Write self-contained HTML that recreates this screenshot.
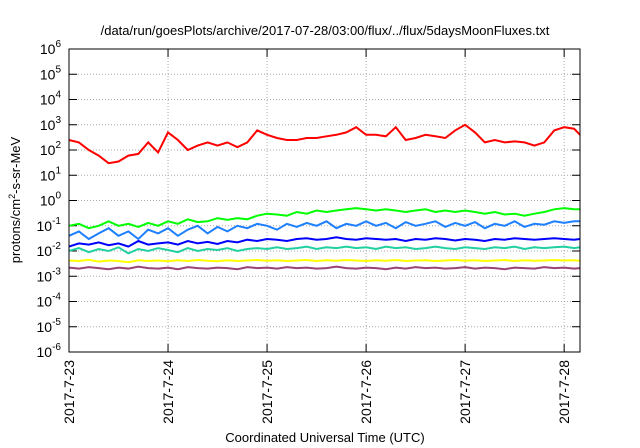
<!DOCTYPE html>
<html><head><meta charset="utf-8"><style>
body{margin:0;background:#fff;}
svg{display:block;font-family:"Liberation Sans",sans-serif;}
</style></head><body>
<svg id="c" width="640" height="448"></svg>
<script>
const dayLabels=["2017-7-23","2017-7-24","2017-7-25","2017-7-26","2017-7-27","2017-7-28"];
const decades=[-6,-5,-4,-3,-2,-1,0,1,2,3,4,5,6];
const redFlux=[250,200,100,60,30,35,60,70,200,80,500,250,100,150,200,150,200,130,200,600,400,300,250,250,300,300,350,400,500,800,400,400,350,800,250,300,400,350,300,600,1000,500,200,250,200,220,200,150,200,600,800,700,400];
const greenFlux=[0.1,0.12,0.08,0.1,0.15,0.1,0.12,0.09,0.13,0.1,0.15,0.12,0.18,0.14,0.15,0.2,0.17,0.2,0.18,0.25,0.3,0.28,0.25,0.35,0.3,0.4,0.35,0.4,0.45,0.5,0.45,0.4,0.45,0.4,0.35,0.4,0.45,0.35,0.4,0.35,0.4,0.35,0.3,0.35,0.28,0.3,0.25,0.3,0.35,0.45,0.5,0.45,0.45];
const lightBlueFlux=[0.04,0.06,0.03,0.05,0.08,0.04,0.06,0.03,0.07,0.05,0.08,0.04,0.07,0.1,0.05,0.09,0.06,0.1,0.08,0.12,0.1,0.07,0.12,0.09,0.13,0.1,0.15,0.08,0.12,0.1,0.15,0.1,0.13,0.08,0.14,0.1,0.12,0.15,0.09,0.13,0.1,0.14,0.08,0.12,0.1,0.15,0.09,0.12,0.11,0.15,0.13,0.15,0.15];
const blueFlux=[0.015,0.02,0.018,0.022,0.017,0.02,0.015,0.025,0.018,0.02,0.022,0.018,0.025,0.02,0.023,0.019,0.025,0.022,0.028,0.025,0.03,0.028,0.025,0.03,0.032,0.028,0.03,0.035,0.03,0.028,0.032,0.03,0.028,0.03,0.025,0.03,0.028,0.032,0.03,0.026,0.03,0.028,0.025,0.03,0.028,0.032,0.03,0.028,0.03,0.032,0.03,0.028,0.03];
const tealFlux=[0.01,0.013,0.009,0.012,0.01,0.014,0.008,0.012,0.01,0.013,0.011,0.009,0.013,0.01,0.012,0.011,0.013,0.01,0.012,0.013,0.012,0.014,0.012,0.013,0.015,0.012,0.014,0.013,0.015,0.013,0.014,0.012,0.015,0.013,0.014,0.012,0.013,0.015,0.013,0.012,0.014,0.013,0.012,0.014,0.013,0.015,0.012,0.014,0.013,0.014,0.015,0.013,0.014];
const yellowFlux=[0.0042,0.004,0.0045,0.0038,0.0042,0.004,0.0036,0.0043,0.004,0.0042,0.0039,0.0043,0.004,0.0044,0.0041,0.0039,0.0043,0.004,0.0042,0.0044,0.0041,0.0043,0.004,0.0042,0.0044,0.004,0.0043,0.0041,0.0044,0.0042,0.004,0.0043,0.0041,0.0044,0.004,0.0042,0.0043,0.004,0.0042,0.0044,0.0041,0.0043,0.004,0.0042,0.0044,0.004,0.0043,0.0041,0.0042,0.0044,0.0042,0.0043,0.0041];
const purpleFlux=[0.0022,0.002,0.0023,0.0021,0.0019,0.0022,0.002,0.0024,0.0021,0.002,0.0022,0.0019,0.0023,0.0021,0.002,0.0022,0.0021,0.0019,0.0023,0.0021,0.0022,0.002,0.0023,0.0021,0.0022,0.002,0.0021,0.0024,0.0021,0.002,0.0022,0.0021,0.0019,0.0022,0.002,0.0023,0.0021,0.0022,0.002,0.0021,0.0023,0.002,0.0022,0.0021,0.0019,0.0022,0.0021,0.002,0.0023,0.0021,0.0022,0.002,0.0021];
const L=69,R=580,T=49,B=352,DAYS=5.16;
const NS='http://www.w3.org/2000/svg';
const svg=document.getElementById('c');
function xs(d){return L+d/DAYS*(R-L);}
function ys(v){return B-(Math.log10(v)+6)/12*(B-T);}
function mk(tag,attrs,parent){const e=document.createElementNS(NS,tag);for(const k in attrs)e.setAttribute(k,attrs[k]);(parent||svg).appendChild(e);return e;}
// grid
decades.forEach(p=>{const y=B-(p+6)/12*(B-T);
 if(p>-6&&p<6){const g=mk('line',{x1:L,x2:R,y1:y,y2:y,stroke:'#aaa','stroke-dasharray':'1,2'});
 
 }
 mk('line',{x1:L,x2:L+8,y1:y,y2:y,stroke:'#000'});mk('line',{x1:R,x2:R-8,y1:y,y2:y,stroke:'#000'});
 const t=mk('text',{x:L-8,y:y+5,'text-anchor':'end','font-size':'14'});
 
 
 t.innerHTML='10<tspan dy="-7" font-size="10">'+p+'</tspan>';
});
dayLabels.forEach((lab,i)=>{const x=xs(i);
 if(i>0){const g=mk('line',{x1:x,x2:x,y1:T,y2:B,stroke:'#aaa','stroke-dasharray':'1,2'});
 
 }
 mk('line',{x1:x,x2:x,y1:B,y2:B-8,stroke:'#000'});mk('line',{x1:x,x2:x,y1:T,y2:T+8,stroke:'#000'});
 const t=mk('text',{x:0,y:0,'text-anchor':'end','font-size':'14',transform:'translate('+(x+5)+','+(B+8)+') rotate(-90)'});
 
 
 t.textContent=lab;
});
const series=[[purpleFlux,'#994477','purple-series'],[yellowFlux,'#ffff00','yellow-series'],[tealFlux,'#20d0a0','teal-series'],[greenFlux,'#00ff00','green-series'],[lightBlueFlux,'#1e80ff','lightblue-series'],[blueFlux,'#0000ff','blue-series'],[redFlux,'#ff0000','red-series']];
series.forEach(([vals,col,name])=>{
 const pts=vals.map((v,i)=>{const d=i<vals.length-1?i*0.1:DAYS;return xs(d).toFixed(1)+','+ys(v).toFixed(1);}).join(' ');
 const p=mk('polyline',{points:pts,fill:'none',stroke:col,'stroke-width':'2'});
 
 
});
const fr=mk('rect',{x:L,y:T,width:R-L,height:B-T,fill:'none',stroke:'#000'});


const tt=mk('text',{x:325,y:35,'text-anchor':'middle','font-size':'13'});


tt.textContent='/data/run/goesPlots/archive/2017-07-28/03:00/flux/../flux/5daysMoonFluxes.txt';
const xt=mk('text',{x:325,y:442,'text-anchor':'middle','font-size':'13'});


xt.textContent='Coordinated Universal Time (UTC)';
const yt=mk('text',{x:0,y:0,'text-anchor':'middle','font-size':'13',transform:'translate(20,200) rotate(-90)'});


yt.innerHTML='protons/cm<tspan dy="-5" font-size="9">2</tspan><tspan dy="5">-s-sr-MeV</tspan>';
</script>
</body></html>
